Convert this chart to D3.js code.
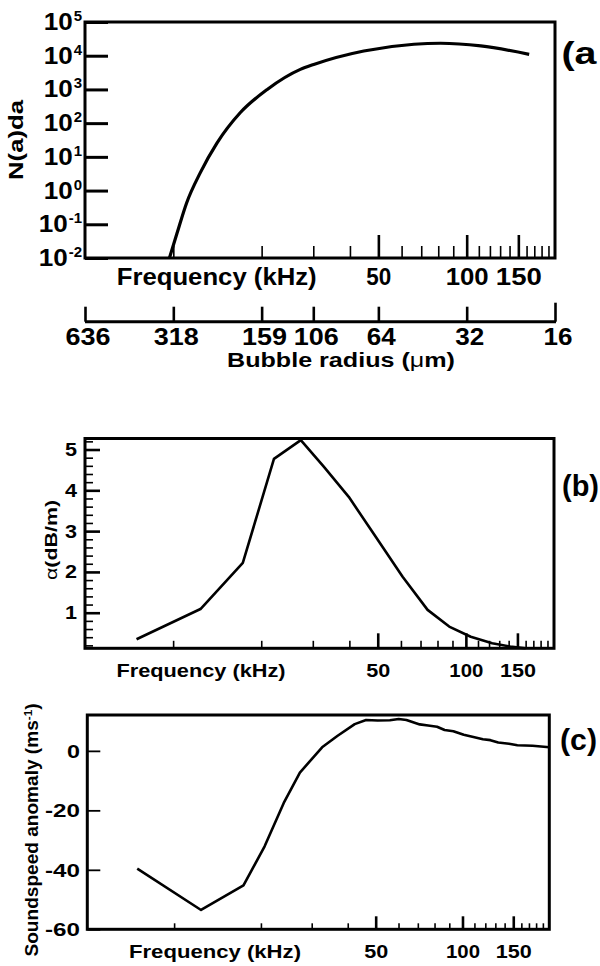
<!DOCTYPE html>
<html><head><meta charset="utf-8">
<script src="https://cdn.jsdelivr.net/npm/d3@7"></script>
<style>
body{margin:0;background:#fff}
svg{display:block}
text{font-family:"Liberation Sans",Arial,Helvetica,sans-serif;font-weight:bold;fill:#000}
</style>
</head><body>
<svg id="chart" width="600" height="966"></svg>
<script>
// ---------------- data ----------------
// (a) bubble size distribution N(a)da vs frequency (kHz)
const freqA = [9.7, 10.3, 11.1, 12.35, 14.1, 16.9, 20.9, 27.1, 30.1, 44.6, 66.1, 81.5, 111.7, 163.3];
const numA  = [0.01, 0.055, 0.43, 3.35, 26, 203, 1000, 3930, 5500, 13800, 21900, 23400, 19500, 11000];
// (b) attenuation alpha (dB/m) vs frequency (kHz)
const freqB  = [7.5, 12.4, 17.3, 22.1, 27.3, 32.7, 39.8, 49.2, 60.8, 74, 87.7, 103.9, 123, 141.7, 160];
const alphaB = [0.35, 1.09, 2.22, 4.77, 5.23, 4.58, 3.84, 2.86, 1.88, 1.07, 0.66, 0.41, 0.25, 0.17, 0.13];
// (c) sound speed anomaly (m/s) vs frequency (kHz)
const freqC  = [7.45, 12.4, 17.4, 20.6, 24.0, 27.3, 32.6, 36.8, 42.3, 46.3, 50.8, 56, 60.1, 63.9, 71.1, 76, 81.6, 86.7, 93, 101, 110, 117.7, 125, 133, 145, 155, 175, 200];
const speedC = [-39.6, -53.5, -45.2, -32.1, -17.5, -7.3, 1.2, 5.0, 9.0, 10.4, 10.2, 10.3, 10.7, 10.4, 8.9, 8.5, 8.1, 7.0, 6.6, 5.4, 4.6, 3.9, 3.6, 2.8, 2.4, 1.9, 1.7, 1.2];

// ticks & labels
const freqDomain = [5, 200];
const freqMajor = [50, 100, 150];
const freqMajorLabels = ["50", "100", "150"];
const freqMinor = [10, 20, 30, 40, 60, 70, 80, 90, 110, 120, 130, 140, 160, 170, 180, 190];
const radiusFreq = [5, 10, 20, 30, 50, 100, 200];
const radiusLabels = ["636", "318", "159", "106", "64", "32", "16"];
const decadeTicks = [1e-2, 1e-1, 1, 10, 100, 1e3, 1e4, 1e5];
const decadeExp = ["-2", "-1", "0", "1", "2", "3", "4", "5"];
const alphaMajor = [1, 2, 3, 4, 5];
const alphaMinor = [0.2, 0.4, 0.6, 0.8, 1.2, 1.4, 1.6, 1.8, 2.2, 2.4, 2.6, 2.8, 3.2, 3.4, 3.6, 3.8, 4.2, 4.4, 4.6, 4.8, 5.2];
const speedTicks = [0, -20, -40, -60];

// ---------------- helpers ----------------
const svg = d3.select("#chart");

function txt(g, x, y, s, size, len, anchor) {
  const t = g.append("text").attr("x", x).attr("y", y)
    .attr("font-size", size).attr("text-anchor", anchor || "middle").text(s);
  if (len) t.attr("textLength", len).attr("lengthAdjust", "spacingAndGlyphs");
  return t;
}
function tickAxis(g, axisFn, scale, vals, tx, ty, len, width) {
  const a = g.append("g").attr("transform", `translate(${tx},${ty})`)
    .call(axisFn(scale).tickValues(vals).tickSizeInner(-len).tickSizeOuter(0).tickFormat(""));
  a.select(".domain").remove();
  a.selectAll("line").attr("stroke", "#000").attr("stroke-width", width);
  return a;
}
function frame(g, x0, x1, y0, y1) {
  g.append("rect").attr("x", x0).attr("y", y0).attr("width", x1 - x0).attr("height", y1 - y0)
    .attr("fill", "none").attr("stroke", "#000").attr("stroke-width", 3);
}
function freqAxis(g, x, yBottom, majLen, minLen) {
  tickAxis(g, d3.axisBottom, x, freqMinor, 0, yBottom, minLen, 1.6);
  tickAxis(g, d3.axisBottom, x, freqMajor, 0, yBottom, majLen, 2.6);
}
function freqRow(g, x, baseline, size, titleX, titleLen, numLens) {
  txt(g, titleX, baseline, "Frequency (kHz)", size, titleLen);
  const a = g.append("g").attr("transform", `translate(0,${baseline})`)
    .call(d3.axisBottom(x).tickValues(freqMajor).tickSize(0).tickPadding(0)
      .tickFormat((d, i) => freqMajorLabels[i]));
  a.select(".domain").remove();
  a.selectAll("text").attr("y", 0).attr("dy", 0).attr("font-size", size)
    .attr("font-family", null).attr("fill", "#000")
    .attr("textLength", (d, i) => numLens[i]).attr("lengthAdjust", "spacingAndGlyphs");
  a.attr("font-family", null).attr("font-size", null);
}

// ---------------- panel (a) ----------------
{
  const L = 85, R = 555, T = 22, B = 258;
  const g = svg.append("g");
  const x = d3.scaleLog().domain(freqDomain).range([L, R]);
  const y = d3.scaleLog().domain([1e-2, 1e5]).range([B, T]);

  g.append("path").datum(d3.zip(freqA, numA))
    .attr("fill", "none").attr("stroke", "#000").attr("stroke-width", 3.2)
    .attr("d", d3.line().x(d => x(d[0])).y(d => y(d[1])).curve(d3.curveMonotoneX));

  tickAxis(g, d3.axisLeft, y, decadeTicks, L, 0, 23, 3);
  freqAxis(g, x, B, 23, 12);
  frame(g, L, R, T, B);

  decadeTicks.forEach((v, i) => {
    const ty = y(v);
    const e = txt(g, 82, ty - 1, decadeExp[i], 15, null, "end");
    const ew = e.node().getComputedTextLength();
    txt(g, 82 - ew - 1, ty + 8, "10", 23, 29, "end");
  });

  txt(g, 0, 0, "N(a)da", 21, 80).attr("transform", "translate(23,140) rotate(-90)");

  txt(g, 561.5, 64, "(a", 32, 35, "start");

  freqRow(g, x, 285, 23, 216.7, 200, [25, 43, 46]);

  // bubble radius axis
  const ra = g.append("g").attr("transform", "translate(0,321.7)")
    .call(d3.axisBottom(x).tickValues(radiusFreq).tickSizeInner(-15).tickSizeOuter(0).tickFormat(""));
  ra.select(".domain").attr("d", `M${L},0H${R + 1}`).attr("stroke", "#000").attr("stroke-width", 3);
  ra.selectAll("line").attr("stroke", "#000").attr("stroke-width", 2.6)
    .attr("y2", (d, i) => i === radiusFreq.length - 1 ? -19 : -15);
  radiusFreq.forEach((f, i) => {
    txt(g, x(f) + 3, 345, radiusLabels[i], 23, radiusLabels[i].length === 3 ? 45 : 29);
  });
  const br = txt(g, 341, 367, "", 20, 228);
  br.append("tspan").text("Bubble radius (");
  br.append("tspan").attr("font-weight", "normal").text("\u03bc");
  br.append("tspan").text("m)");
}

// ---------------- panel (b) ----------------
{
  const L = 85, R = 554, T = 438.5, B = 648.3;
  const g = svg.append("g");
  const x = d3.scaleLog().domain(freqDomain).range([L, R]);
  const y = d3.scaleLinear().domain([0.128, 5.27]).range([B, T]);

  g.append("path").datum(d3.zip(freqB, alphaB))
    .attr("fill", "none").attr("stroke", "#000").attr("stroke-width", 2.6)
    .attr("stroke-linejoin", "round")
    .attr("d", d3.line().x(d => x(d[0])).y(d => y(d[1])));

  tickAxis(g, d3.axisLeft, y, alphaMinor, L, 0, 8, 1.6);
  tickAxis(g, d3.axisLeft, y, alphaMajor, L, 0, 15, 2.6);
  freqAxis(g, x, B, 15, 7.5);
  frame(g, L, R, T, B);

  alphaMajor.forEach(v => txt(g, 77, y(v) + 6.5, String(v), 18, 12, "end"));

  const yl = txt(g, 0, 0, "", 17, 80).attr("transform", "translate(57,540) rotate(-90)");
  yl.append("tspan").attr("font-weight", "normal").text("\u03b1");
  yl.append("tspan").text("(dB/m)");

  txt(g, 562, 496, "(b)", 30, 37, "start");

  freqRow(g, x, 677, 19, 201, 169, [24, 34, 36]);
}

// ---------------- panel (c) ----------------
{
  const L = 87.3, R = 549.3, T = 715, B = 929.3;
  const g = svg.append("g");
  const x = d3.scaleLog().domain(freqDomain).range([L, R]);
  const y = d3.scaleLinear().domain([-60, 12.06]).range([B, T]);

  g.append("path").datum(d3.zip(freqC, speedC))
    .attr("fill", "none").attr("stroke", "#000").attr("stroke-width", 2.6)
    .attr("stroke-linejoin", "round")
    .attr("d", d3.line().x(d => x(d[0])).y(d => y(d[1])));

  tickAxis(g, d3.axisLeft, y, speedTicks, L, 0, 13, 1.8);
  freqAxis(g, x, B, 13, 6);
  frame(g, L, R, T, B);

  speedTicks.forEach(v => txt(g, 80, y(v) + 7, String(v), 19, v === 0 ? 13 : 35, "end"));

  const yl = txt(g, 0, 0, "", 18, 253).attr("transform", "translate(38,830) rotate(-90)");
  yl.append("tspan").text("Soundspeed anomaly (ms");
  yl.append("tspan").attr("font-size", 11).attr("baseline-shift", "super").text("-1");
  yl.append("tspan").text(")");

  txt(g, 560, 750, "(c)", 30, 37, "start");

  freqRow(g, x, 958, 19, 215, 172, [24, 34, 36]);
}
</script>
</body></html>
